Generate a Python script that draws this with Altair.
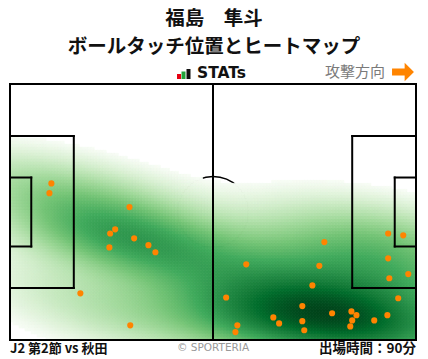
import altair as alt
import numpy as np
import pandas as pd

# Ball touch positions (metres; x from left goal line, y from top touchline)
touch_x = [10.7, 10.2, 30.9, 27.2, 25.9, 32.1, 25.7, 35.8, 37.6, 18.2, 31.1,
           97.8, 101.7, 81.3, 61.1, 80.0, 97.8, 98.1, 103.0, 78.2, 55.9, 100.4,
           75.6, 88.3, 83.3, 89.6, 68.1, 97.6, 88.5, 75.6, 69.6, 94.2, 88.0,
           58.8, 58.3, 76.1]
touch_y = [26.4, 29.0, 32.7, 38.6, 39.7, 41.0, 43.4, 42.8, 44.7, 55.6, 64.1,
           39.7, 40.2, 42.0, 47.9, 48.3, 46.3, 51.6, 50.5, 53.5, 56.7, 56.9,
           59.0, 60.4, 60.9, 61.4, 62.0, 61.4, 62.8, 63.0, 63.6, 62.8, 64.4,
           64.1, 65.9, 65.4]

PL, PW = 105.0, 68.0
W, H = 406, 256

title1 = "福島　隼斗"
title2 = "ボールタッチ位置とヒートマップ"
brand = "STATs"
direction = "攻撃方向"
footer_left = "J2 第2節 vs 秋田"
footer_mid = "© SPORTERIA"
footer_right = "出場時間：90分"

# ColorBrewer Greens ramp for the heatmap
greens = ["#f7fcf5", "#e5f5e0", "#c7e9c0", "#a1d99b", "#74c476",
          "#41ab5d", "#238b45", "#006d2c", "#00441b"]

FONT = "Noto Sans CJK JP"
BW_ADJUST = 1.15
THRESH = 0.02
GAMMA = 0.62

# --- Gaussian KDE (Scott's rule, adjusted) of the touches ---
pts = np.vstack([touch_x, touch_y])
n = pts.shape[1]
factor = n ** (-1.0 / 6.0) * BW_ADJUST
cov = np.cov(pts) * factor ** 2
inv = np.linalg.inv(cov)


def kde(GX, GY):
    out = np.zeros_like(GX)
    for px, py in zip(touch_x, touch_y):
        dx = GX - px
        dy = GY - py
        q = inv[0, 0] * dx * dx + 2 * inv[0, 1] * dx * dy + inv[1, 1] * dy * dy
        out += np.exp(-0.5 * q)
    return out

# lowest iso-proportion level (2% of probability mass left blank)
ex = np.linspace(-80, 185, 420)
ey = np.linspace(-70, 138, 330)
EX, EY = np.meshgrid(ex, ey)
ed = np.sort(kde(EX, EY).ravel())
cm = np.cumsum(ed)
cm = cm / cm[-1]
thr = ed[np.searchsorted(cm, THRESH)]

nx, ny = 135, 85
sx, sy = PL / nx, PW / ny
gx = (np.arange(nx) + 0.5) * sx
gy = (np.arange(ny) + 0.5) * sy
GX, GY = np.meshgrid(gx, gy)
dens = kde(GX, GY)
dmax = dens.max()
heat = pd.DataFrame({
    "x": (GX - sx / 2).ravel(), "x2": (GX + sx / 2).ravel(),
    "y": (GY - sy / 2).ravel(), "y2": (GY + sy / 2).ravel(),
    "u": ((dens - thr) / (dmax - thr)).ravel(),
})
heat = heat[heat["u"] >= 0]

xs = alt.Scale(domain=[0, PL], nice=False, zero=False, padding=0)
ys = alt.Scale(domain=[0, PW], nice=False, zero=False, padding=0, reverse=True)
stops = [float(v) for v in np.linspace(0, 1.0, len(greens)) ** (1.0 / GAMMA)]
cs = alt.Scale(domain=stops, range=greens, clamp=True)

heat_layer = alt.Chart(heat).mark_rect(strokeWidth=0.8).encode(
    x=alt.X("x:Q", scale=xs, axis=None), x2="x2",
    y=alt.Y("y:Q", scale=ys, axis=None), y2="y2",
    color=alt.Color("u:Q", scale=cs, legend=None),
    stroke=alt.Stroke("u:Q", scale=cs, legend=None),
)

# centre circle (drawn under the heatmap)
circle = alt.Chart(pd.DataFrame({"x": [PL / 2], "y": [PW / 2]})).mark_point(
    shape="circle", filled=False, color="black", strokeWidth=1.5, opacity=1,
    size=(2 * 9.15 * W / PL) ** 2,
).encode(x=alt.X("x:Q", scale=xs, axis=None), y=alt.Y("y:Q", scale=ys, axis=None))

# pitch markings
bx = 16.5; by0 = (PW - 40.32) / 2; by1 = PW - by0
gxw = 5.5; gy0 = (PW - 18.32) / 2; gy1 = PW - gy0
segs = [
    (0, 0, PL, 0), (0, PW, PL, PW), (0, 0, 0, PW), (PL, 0, PL, PW),
    (PL / 2, 0, PL / 2, PW),
    (0, by0, bx, by0), (0, by1, bx, by1), (bx, by0, bx, by1),
    (PL, by0, PL - bx, by0), (PL, by1, PL - bx, by1), (PL - bx, by0, PL - bx, by1),
    (0, gy0, gxw, gy0), (0, gy1, gxw, gy1), (gxw, gy0, gxw, gy1),
    (PL, gy0, PL - gxw, gy0), (PL, gy1, PL - gxw, gy1), (PL - gxw, gy0, PL - gxw, gy1),
]
lines = pd.DataFrame(segs, columns=["x", "y", "x2", "y2"])
line_layer = alt.Chart(lines).mark_rule(color="black", strokeWidth=2, strokeCap="square").encode(
    x=alt.X("x:Q", scale=xs, axis=None), y=alt.Y("y:Q", scale=ys, axis=None),
    x2="x2", y2="y2",
)

pts_df = pd.DataFrame({"x": touch_x, "y": touch_y})
pt_layer = alt.Chart(pts_df).mark_circle(color="#ff8400", size=38, opacity=1).encode(
    x=alt.X("x:Q", scale=xs, axis=None), y=alt.Y("y:Q", scale=ys, axis=None),
)

one = pd.DataFrame({"a": [0]})


def txt(text, x, y, size, align="center", color="#111111", weight="bold", font=FONT):
    return alt.Chart(one).mark_text(
        text=text, fontSize=size, align=align, baseline="middle", color=color,
        fontWeight=weight, font=font,
    ).encode(x=alt.value(x), y=alt.value(y))


texts = [
    txt(title1, 204, -65, 19.5),
    txt(title2, 204, -37, 19.5),
    txt(brand, 187, -11.5, 15.5, align="left", font="DejaVu Sans"),
    txt(direction, 345, -12, 15, align="center", color="#7a7a7a", weight="normal"),
    txt(footer_left, 0, 265, 13, align="left"),
    txt(footer_mid, 203, 264, 10.5, align="center", color="#999999", weight="normal", font="DejaVu Sans"),
    txt(footer_right, 406, 265, 13.5, align="right"),
]


def bar(x0, x1, y0, y1, color):
    return alt.Chart(one).mark_rect(color=color).encode(
        x=alt.value(x0), x2=alt.value(x1), y=alt.value(y0), y2=alt.value(y1))


icon = [
    bar(167, 171, -10, -5, "#e60012"),
    bar(171.5, 175.5, -12.5, -5, "#22a33a"),
    bar(176.5, 180.5, -15, -5, "#111111"),
]

arrow = alt.Chart(one).mark_point(
    shape="M-1,-0.32L0.15,-0.32L0.15,-0.85L1,0L0.15,0.85L0.15,0.32L-1,0.32Z",
    filled=True, color="#ff8400", opacity=1, size=480, strokeWidth=0,
).encode(x=alt.value(393), y=alt.value(-12))

chart = alt.layer(circle, heat_layer, line_layer, pt_layer, *texts, *icon, arrow).properties(
    width=W, height=H,
    padding={"left": 2, "top": 76, "right": 4, "bottom": 18},
    autosize=alt.AutoSizeParams(type="none"),
    background="white",
).configure_view(stroke=None)

chart.save("out.html", embed_options={"renderer": "svg", "actions": False})
